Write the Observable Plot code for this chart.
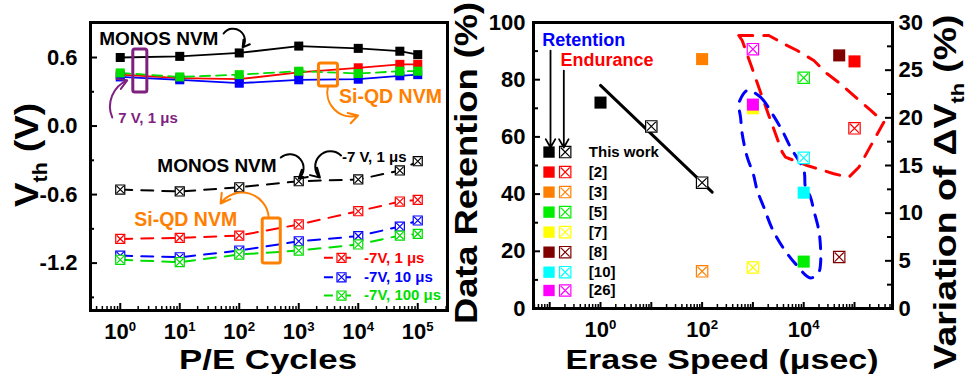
<!DOCTYPE html>
<html><head><meta charset="utf-8">
<script src="https://cdn.jsdelivr.net/npm/d3@7"></script>
<script src="https://cdn.jsdelivr.net/npm/@observablehq/plot@0.6"></script>
<style>
html,body{margin:0;padding:0;background:#fff;}
#wrap{display:flex;width:972px;height:374px;overflow:hidden;}
#wrap svg{overflow:visible;display:block;flex-shrink:0;max-width:none;}
</style></head><body><div id="wrap"></div>
<script>
const FONT = "'Liberation Sans', Arial, Helvetica, sans-serif";

// ================= Left panel data: Vth vs P/E cycles =================
const cycles = [1, 10, 100, 1000, 10000, 50000, 100000];
const seriesColors = ["#000000", "#ff0000", "#0000ff", "#00dd00"];
const programVth = [
  [0.60, 0.61, 0.64, 0.70, 0.68, 0.655, 0.625],   // MONOS NVM
  [0.45, 0.42, 0.41, 0.47, 0.51, 0.54, 0.54],     // Si-QD, -7V 1us
  [0.43, 0.405, 0.375, 0.405, 0.41, 0.44, 0.45],  // Si-QD, -7V 10us
  [0.465, 0.43, 0.45, 0.48, 0.46, 0.48, 0.48]     // Si-QD, -7V 100us
];
const eraseVth = [
  [-0.556, -0.573, -0.536, -0.483, -0.468, -0.389, -0.308],
  [-0.988, -0.979, -0.959, -0.862, -0.746, -0.661, -0.647],
  [-1.134, -1.149, -1.09, -1.009, -0.964, -0.88, -0.827],
  [-1.171, -1.192, -1.125, -1.09, -1.037, -0.959, -0.944]
];
const vthTicks = [0.6, 0.0, -0.6, -1.2];
const vthTickLabels = ["0.6", "0.0", "-0.6", "-1.2"];
const vthMinorTicks = [0.3, -0.3, -0.9, -1.5];
const cycleTicks = [1, 10, 100, 1000, 10000, 100000];
const cycleTickLabels = ["10^0", "10^1", "10^2", "10^3", "10^4", "10^5"];
const legendLabels = ["-7V, 1 μs", "-7V, 10 μs", "-7V, 100 μs"];
const legendColors = ["#ff0000", "#0000ff", "#00dd00"];
const legendRowsV = [-1.154, -1.324, -1.484];

// left annotations (x in cycles, y in V)
const leftNotes = [
  {text: "MONOS NVM", x: 0.442, y: 0.762, color: "#000000", size: 19},
  {text: "7 V, 1 μs", x: 0.925, y: 0.066, color: "#7f1f7f", size: 15},
  {text: "Si-QD NVM", x: 4745, y: 0.254, color: "#ff8000", size: 19.5},
  {text: "MONOS NVM", x: 4.2, y: -0.35, color: "#000000", size: 19},
  {text: "-7 V, 1 μs", x: 5330, y: -0.276, color: "#000000", size: 15},
  {text: "Si-QD NVM", x: 1.72, y: -0.823, color: "#ff8000", size: 19.5}
];
const leftBoxes = [
  {x1: 1.657, x2: 2.853, y1: 0.294, y2: 0.670, color: "#7f1f7f"},
  {x1: 2183, x2: 4565, y1: 0.346, y2: 0.547, color: "#ff8000"},
  {x1: 248, x2: 499, y1: -1.204, y2: -0.81, color: "#ff8000"}
];
const leftArrows = [
  {x1: 54.6, y1: 0.81, x2: 114, y2: 0.688, bend: 90, color: "#000000"},
  {x1: 0.733, y1: 0.075, x2: 1.31, y2: 0.40, bend: 45, color: "#7f1f7f"},
  {x1: 3100, y1: 0.346, x2: 9930, y2: 0.092, bend: -60, color: "#ff8000"},
  {x1: 499, y1: -0.276, x2: 1000, y2: -0.46, bend: 90, color: "#000000"},
  {x1: 5130, y1: -0.258, x2: 2270, y2: -0.451, bend: -90, color: "#000000"},
  {x1: 313, y1: -0.801, x2: 48.6, y2: -0.678, bend: -70, color: "#ff8000"}
];
const legendLineX = [2650, 8490];
const legendMarkX = 5230;
const legendTextX = 12530;

// ================= Right panel data: retention / endurance vs erase speed =================
const refNames = ["This work", "[2]", "[3]", "[5]", "[7]", "[8]", "[10]", "[26]"];
const refColors = ["#000000", "#ff0000", "#ff8000", "#00ee00", "#ffff00", "#800000", "#00ffff", "#ff00ff"];
const retentionSpeed = [1, 100000, 100, 10000, 1000, 50000, 10000, 1000];
const retentionValue = [72, 86.4, 87.2, 16.4, 70, 88.5, 40.5, 71.3];
const enduranceRef = [0, 0, 1, 2, 3, 4, 5, 6, 7];
const enduranceSpeed = [10, 100, 100000, 100, 10000, 1000, 50000, 10000, 1000];
const enduranceValue = [19.1, 13.2, 18.9, 3.9, 24.2, 4.3, 5.4, 15.8, 27.2];
const trendSpeed = [1, 158];
const trendValue = [23.4, 12.2];
const retTicks = [0, 20, 40, 60, 80, 100];
const retMinorTicks = [10, 30, 50, 70, 90];
const endTicks = [0, 5, 10, 15, 20, 25, 30];
const endMinorTicks = [2.5, 7.5, 12.5, 17.5, 22.5, 27.5];
const speedTicks = [1, 100, 10000];
const speedTickLabels = ["10^0", "10^2", "10^4"];
const speedDecades = [0.1, 1, 10, 100, 1000, 10000, 100000];
// outline annotations (x as log10 of erase speed)
const retentionOutlineLog = [2.888, 3.150, 3.380, 3.577, 3.740, 4.002, 4.035, 4.134, 4.199, 4.297, 4.331, 4.331, 4.297, 4.134, 3.839, 3.608, 3.380, 3.215, 3.085, 3.006, 2.888, 2.789, 2.756, 2.722, 2.742];
const retentionOutlineValue = [76.2, 73.9, 68.1, 62.2, 56.4, 48.3, 42.4, 38.9, 34.3, 27.3, 21.4, 15.6, 12.7, 10.7, 15.6, 20.9, 27.9, 35.4, 41.3, 47.1, 52.9, 61.1, 66.9, 71.0, 72.7];
const enduranceOutlineLog = [2.722, 3.313, 3.608, 3.872, 4.199, 4.463, 4.724, 5.020, 5.315, 5.577, 5.085, 4.888, 4.593, 4.069, 3.642, 3.577, 3.313, 3.150, 2.953, 2.789];
const enduranceOutlineValue = [28.64, 28.64, 27.77, 27.06, 26.01, 24.62, 23.57, 22.17, 20.81, 19.54, 14.82, 13.77, 14.13, 15.0, 15.87, 16.4, 20.25, 22.69, 25.67, 28.11];
const legendRowsPct = [54.7, 47.7, 40.7, 33.7, 26.7, 19.7, 12.7, 6.3];
const legendFilledX = 0.0969, legendCrossX = 0.2018, legendLabelX = 0.589;

// ================= helpers =================
const H = 374;
const W1 = 450, W2 = 522;
const m1 = {marginLeft: 90, marginRight: 3, marginTop: 22, marginBottom: 64};
const m2 = {marginLeft: 83, marginRight: 80, marginTop: 22, marginBottom: 66};
const fw1 = W1 - 93, fh1 = H - 86;
const fw2 = W2 - 163, fh2 = H - 88;

function logMinors(lo, hi) {
  const out = [];
  for (let k = -2; k <= 6; k++) for (let m = 2; m <= 9; m++) {
    const v = m * Math.pow(10, k);
    if (v > lo && v < hi) out.push(v);
  }
  return out;
}
function crossed(data, opts, r, rx) {
  return [
    Plot.dot(data, {...opts, symbol: "square", r, fill: "white", strokeWidth: 1.2}),
    Plot.dot(data, {...opts, symbol: "times", r: rx, strokeWidth: 1.2})
  ];
}
function superscriptTicks(svg) {
  d3.select(svg).selectAll('g[aria-label="x-axis tick label"] text').each(function () {
    const t = d3.select(this);
    const s = t.text();
    if (!s.includes("^")) return;
    const [base, exp] = s.split("^");
    t.text(null);
    t.append("tspan").text(base);
    t.append("tspan").attr("dy", "-0.6em").attr("font-size", "0.6em").text(exp);
  });
}
function title(svg, {x, y, rotate, size, parts, length}) {
  const t = d3.select(svg).append("text")
    .attr("transform", `translate(${x},${y})` + (rotate ? ` rotate(${rotate})` : ""))
    .attr("text-anchor", "middle")
    .attr("font-family", FONT).attr("font-weight", "bold")
    .attr("font-size", size).attr("fill", "#000");
  if (length) t.attr("textLength", length).attr("lengthAdjust", "spacingAndGlyphs");
  for (const p of parts) {
    const s = t.append("tspan").text(p.text);
    if (p.sub) s.attr("font-size", size * 0.58).attr("dy", size * 0.25);
    if (p.after) s.attr("dy", -size * 0.25);
  }
}

// ================= Left plot =================
const progData = programVth.flatMap((vals, s) => cycles.map((c, i) => ({c, v: vals[i], s})));
const eraseData = eraseVth.flatMap((vals, s) => cycles.map((c, i) => ({c, v: vals[i], s})));
const leftXDomain = [Math.pow(10, -0.5), Math.pow(10, 5.5)];

const leftMarks = [];
// ticks (inward)
leftMarks.push(Plot.tickX(logMinors(leftXDomain[0], leftXDomain[1]), {x: d => d, insetTop: fh1 - 4, stroke: "#000", strokeWidth: 1.5}));
leftMarks.push(Plot.tickX(cycleTicks, {x: d => d, insetTop: fh1 - 7, stroke: "#000", strokeWidth: 2}));
leftMarks.push(Plot.tickY(vthMinorTicks, {y: d => d, insetRight: fw1 - 4, stroke: "#000", strokeWidth: 2}));
leftMarks.push(Plot.tickY(vthTicks, {y: d => d, insetRight: fw1 - 7, stroke: "#000", strokeWidth: 2}));
// erase (dashed, crossed squares)
for (let s = 0; s < 4; s++) {
  const d = eraseData.filter(e => e.s === s);
  leftMarks.push(Plot.line(d, {x: "c", y: "v", stroke: seriesColors[s], strokeWidth: 2, strokeDasharray: "12,9"}));
}
for (let s = 0; s < 4; s++) {
  const d = eraseData.filter(e => e.s === s);
  leftMarks.push(...crossed(d, {x: "c", y: "v", stroke: seriesColors[s]}, 5.1, 3.4));
}
// program (solid / dashed, filled squares)
for (let s = 0; s < 4; s++) {
  const d = progData.filter(e => e.s === s);
  leftMarks.push(Plot.line(d, {x: "c", y: "v", stroke: seriesColors[s], strokeWidth: 1.8, strokeDasharray: s === 3 ? "10,6" : null}));
}
for (let s = 0; s < 4; s++) {
  const d = progData.filter(e => e.s === s);
  leftMarks.push(Plot.dot(d, {x: "c", y: "v", symbol: "square", r: 5.1, fill: seriesColors[s]}));
}
// annotations
leftMarks.push(Plot.rect(leftBoxes, {x1: "x1", x2: "x2", y1: "y1", y2: "y2", stroke: "color", strokeWidth: 3, fill: "none", rx: 2}));
for (const a of leftArrows) {
  leftMarks.push(Plot.arrow([a], {x1: "x1", y1: "y1", x2: "x2", y2: "y2", bend: a.bend, stroke: a.color, strokeWidth: 2, headLength: 8}));
}
leftMarks.push(Plot.text(leftNotes, {x: "x", y: "y", text: "text", fill: "color", fontSize: d => d.size, fontWeight: "bold", textAnchor: "start", fontFamily: FONT}));
// legend
const legRows = legendLabels.map((label, i) => ({label, color: legendColors[i], v: legendRowsV[i]}));
leftMarks.push(Plot.link(legRows, {x1: () => legendLineX[0], x2: () => legendLineX[1], y1: "v", y2: "v", stroke: "color", strokeWidth: 2, strokeDasharray: "9,9"}));
leftMarks.push(...crossed(legRows, {x: () => legendMarkX, y: "v", stroke: "color"}, 5.1, 3.4));
leftMarks.push(Plot.text(legRows, {x: () => legendTextX, y: "v", text: "label", fill: "color", fontSize: 15, fontWeight: "bold", textAnchor: "start", fontFamily: FONT}));
// axes + frame
leftMarks.push(Plot.axisX({ticks: cycleTicks, tickFormat: d => cycleTickLabels[cycleTicks.indexOf(d)], tickSize: 0, tickPadding: 13, fontSize: 22, fontWeight: "bold", label: null}));
leftMarks.push(Plot.axisY({ticks: vthTicks, tickFormat: d => vthTickLabels[vthTicks.indexOf(d)], tickSize: 0, tickPadding: 13, fontSize: 22, fontWeight: "bold", label: null}));
leftMarks.push(Plot.frame({stroke: "#000", strokeWidth: 3}));

const left = Plot.plot({
  width: W1, height: H, ...m1,
  style: {fontFamily: FONT, fontWeight: "bold", color: "#000", background: "white", overflow: "visible"},
  x: {type: "log", domain: leftXDomain},
  y: {domain: [-1.615, 0.9065]},
  marks: leftMarks
});

// ================= Right plot =================
const endScale = 100 / 30;
const retData = retentionSpeed.map((x, i) => ({x, v: retentionValue[i], color: refColors[i]}));
const endData = enduranceSpeed.map((x, i) => ({x, v: enduranceValue[i] * endScale, color: refColors[enduranceRef[i]]}));
const trendData = trendSpeed.map((x, i) => ({x, v: trendValue[i] * endScale}));
const retOutline = retentionOutlineLog.map((lx, i) => ({x: Math.pow(10, lx), v: retentionOutlineValue[i]}));
const endOutline = enduranceOutlineLog.map((lx, i) => ({x: Math.pow(10, lx), v: enduranceOutlineValue[i] * endScale}));
const rightXDomain = [Math.pow(10, -1.319), Math.pow(10, 5.748)];
const refRows = refNames.map((name, i) => ({name, color: refColors[i], v: legendRowsPct[i]}));

const rightMarks = [
  Plot.tickX(logMinors(rightXDomain[0], rightXDomain[1]), {x: d => d, insetTop: fh2 - 4, stroke: "#000", strokeWidth: 1.5}),
  Plot.tickX(speedDecades, {x: d => d, insetTop: fh2 - 6, stroke: "#000", strokeWidth: 2}),
  Plot.tickY(retMinorTicks, {y: d => d, insetRight: fw2 - 5, stroke: "#000", strokeWidth: 2}),
  Plot.tickY(retTicks, {y: d => d, insetRight: fw2 - 7, stroke: "#000", strokeWidth: 2}),
  Plot.tickY(endMinorTicks.map(d => d * endScale), {y: d => d, insetLeft: fw2 - 5, stroke: "#000", strokeWidth: 2}),
  Plot.tickY(endTicks.map(d => d * endScale), {y: d => d, insetLeft: fw2 - 7, stroke: "#000", strokeWidth: 2}),
  Plot.line(endOutline, {x: "x", y: "v", curve: "linear-closed", stroke: "#ff0000", strokeWidth: 3, strokeDasharray: "14,11"}),
  Plot.line(retOutline, {x: "x", y: "v", curve: "catmull-rom-closed", stroke: "#0000ff", strokeWidth: 3, strokeDasharray: "12,10"}),
  Plot.line(trendData, {x: "x", y: "v", stroke: "#000", strokeWidth: 3}),
  Plot.dot(retData, {x: "x", y: "v", symbol: "square", r: 6.8, fill: "color"}),
  ...crossed(endData, {x: "x", y: "v", stroke: "color"}, 6.4, 4.2),
  // legend
  Plot.dot(refRows, {x: () => legendFilledX, y: "v", symbol: "square", r: 6.4, fill: "color"}),
  ...crossed(refRows, {x: () => legendCrossX, y: "v", stroke: "color"}, 6.4, 4.2),
  Plot.text(refRows, {x: () => legendLabelX, y: "v", text: "name", fontSize: 15, fontWeight: "bold", textAnchor: "start", fill: "#000", fontFamily: FONT}),
  Plot.text(["Retention"], {x: () => 0.0711, y: () => 93.7, text: d => d, fill: "#0000ff", fontSize: 18, fontWeight: "bold", textAnchor: "start", fontFamily: FONT}),
  Plot.text(["Endurance"], {x: () => 0.163, y: () => 86.7, text: d => d, fill: "#ff0000", fontSize: 18, fontWeight: "bold", textAnchor: "start", fontFamily: FONT}),
  Plot.arrow([{x: 0.1037, a: 90.2, b: 56.3}, {x: 0.1896, a: 83.2, b: 56.3}], {x: "x", y1: "a", y2: "b", stroke: "#000", strokeWidth: 1.8, headLength: 8}),
  Plot.axisX({ticks: speedTicks, tickFormat: d => speedTickLabels[speedTicks.indexOf(d)], tickSize: 0, tickPadding: 13, fontSize: 22, fontWeight: "bold", label: null}),
  Plot.axisY({ticks: retTicks, tickSize: 0, tickPadding: 8, fontSize: 22, fontWeight: "bold", label: null}),
  Plot.axisY({anchor: "right", ticks: endTicks.map(d => d * endScale), tickFormat: d => String(Math.round(d / endScale)), tickSize: 0, tickPadding: 6, fontSize: 22, fontWeight: "bold", label: null}),
  Plot.frame({stroke: "#000", strokeWidth: 3})
];

const right = Plot.plot({
  width: W2, height: H, ...m2,
  style: {fontFamily: FONT, fontWeight: "bold", color: "#000", background: "white", overflow: "visible"},
  x: {type: "log", domain: rightXDomain},
  y: {domain: [0, 100]},
  marks: rightMarks
});

const wrap = document.getElementById("wrap");
wrap.appendChild(left);
wrap.appendChild(right);
superscriptTicks(left);
superscriptTicks(right);

title(left, {x: 38, y: 155, rotate: -90, size: 34, length: 104,
  parts: [{text: "V"}, {text: "th", sub: true}, {text: " (V)", after: true}]});
title(left, {x: 268, y: 369, size: 28, length: 178, parts: [{text: "P/E Cycles"}]});
title(right, {x: 27, y: 163, rotate: -90, size: 32, length: 322, parts: [{text: "Data Retention (%)"}]});
title(right, {x: 272, y: 369, size: 28, length: 313, parts: [{text: "Erase Speed (μsec)"}]});
title(right, {x: 506, y: 192, rotate: -90, size: 32, length: 355,
  parts: [{text: "Variation of ΔV"}, {text: "th", sub: true}, {text: " (%)", after: true}]});
</script></body></html>
